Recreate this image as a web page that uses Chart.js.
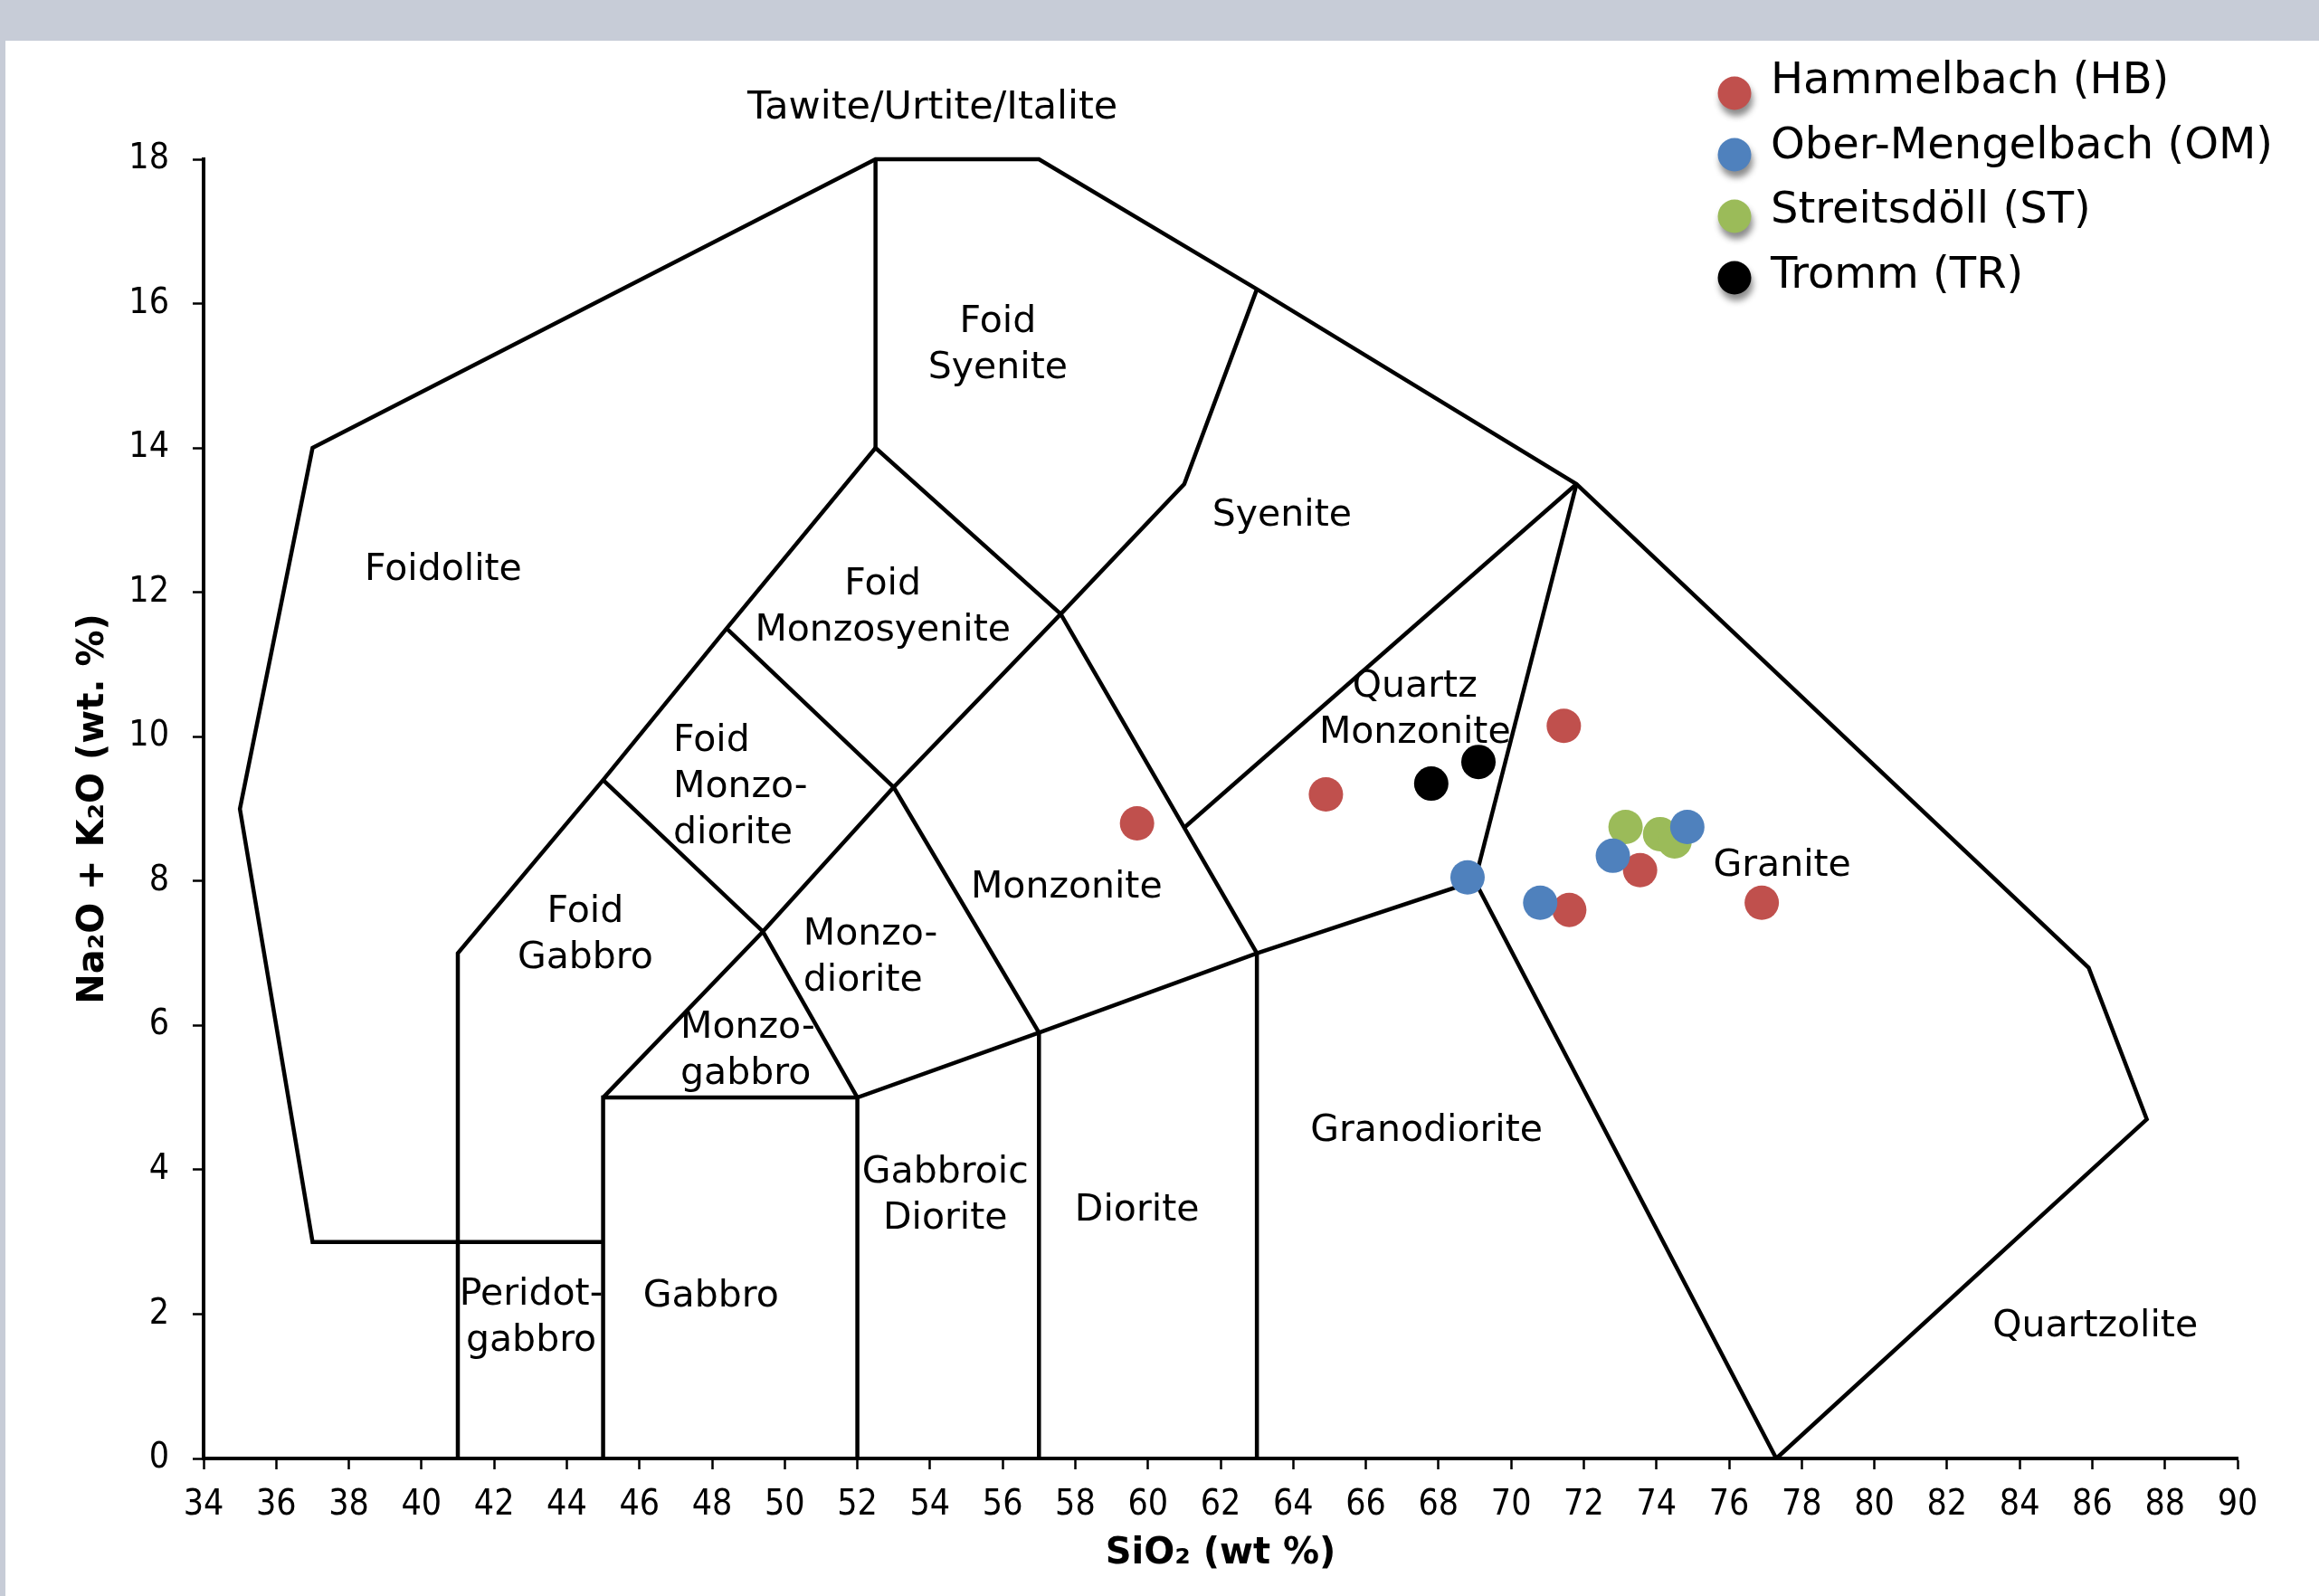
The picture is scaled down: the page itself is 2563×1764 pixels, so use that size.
<!DOCTYPE html>
<html>
<head>
<meta charset="utf-8">
<title>TAS classification – plutonic rocks</title>
<script src="https://cdn.jsdelivr.net/npm/chart.js@4.4.1/dist/chart.umd.min.js"></script>
<style>
  html, body { margin: 0; padding: 0; background: #ffffff; }
  body { width: 2563px; height: 1764px; position: relative; overflow: hidden; }
  #band { position: absolute; left: 0; top: 0; width: 2563px; height: 45px; background: #c7ccd7; }
  #edge { position: absolute; left: 0; top: 0; width: 6px; height: 1764px; background: #c7ccd7; }
  #wrap { position: absolute; left: 0; top: 0; width: 2563px; height: 1764px; }
</style>
</head>
<body>
<div id="band"></div>
<div id="edge"></div>
<div id="wrap"><canvas id="tas" width="2563" height="1764"></canvas></div>
<script>
// ---- sample series (SiO2 wt %, Na2O + K2O wt %) ----
const seriesNames  = ['Hammelbach (HB)', 'Ober-Mengelbach (OM)', 'Streitsdöll (ST)', 'Tromm (TR)'];
const seriesColors = ['#c0504d', '#4f81bd', '#9bbb59', '#000000'];

const hbSiO2 = [59.7, 64.9, 71.45, 71.6, 73.55, 76.9];
const hbAlk  = [8.8, 9.2, 10.15, 7.6, 8.15, 7.7];

const omSiO2 = [68.8, 70.8, 72.8, 74.85];
const omAlk  = [8.05, 7.7, 8.35, 8.75];

const stSiO2 = [73.15, 74.1, 74.5];
const stAlk  = [8.75, 8.65, 8.55];

const trSiO2 = [67.8, 69.1];
const trAlk  = [9.35, 9.65];

// ---- axis ticks ----
const sio2Ticks = [34, 36, 38, 40, 42, 44, 46, 48, 50, 52, 54, 56, 58, 60, 62,
                   64, 66, 68, 70, 72, 74, 76, 78, 80, 82, 84, 86, 88, 90];
const alkTicks  = [0, 2, 4, 6, 8, 10, 12, 14, 16, 18];

// ---- field boundaries of the plutonic TAS diagram (SiO2, Na2O + K2O) ----
const outerBoundary   = [[45, 3], [37, 3], [35, 9], [37, 14], [52.5, 18], [57, 18], [63, 16.2],
                         [71.8, 13.5], [85.9, 6.8], [87.5, 4.7], [77.3, 0]];
const foidLine        = [[41, 0], [41, 7], [45, 9.4], [48.4, 11.5], [52.5, 14], [57.6, 11.7], [63, 7], [63, 0]];
const foidSyeniteLine = [[52.5, 14], [52.5, 18]];
const syeniteLine     = [[57.6, 11.7], [61, 13.5], [63, 16.2]];
const monzosyenLine   = [[48.4, 11.5], [53, 9.3], [57.6, 11.7]];
const monzodioLine    = [[45, 9.4], [49.4, 7.3], [53, 9.3], [57, 5.9], [57, 0]];
const gabbroLine      = [[45, 0], [45, 5], [52, 5], [52, 0]];
const lowerLine       = [[45, 5], [49.4, 7.3], [52, 5], [57, 5.9], [63, 7], [69, 8], [77.3, 0]];
const graniteLine     = [[69, 8], [71.8, 13.5]];
const qtzMonzLine     = [[61, 8.74], [71.8, 13.5]];

const fieldBoundaries = [outerBoundary, foidLine, foidSyeniteLine, syeniteLine, monzosyenLine,
                         monzodioLine, gabbroLine, lowerLine, graniteLine, qtzMonzLine];

// ---- field names, anchored at (SiO2, Na2O + K2O) ----
const fieldNames = [
  { text: ['Tawite/Urtite/Italite'], x: 54.07, y: 18.76, align: 'center', size: 43 },
  { text: ['Foid', 'Syenite'], x: 55.87, y: 15.47, align: 'center' },
  { text: ['Foidolite'], x: 40.6, y: 12.36, align: 'center' },
  { text: ['Syenite'], x: 63.69, y: 13.11, align: 'center' },
  { text: ['Foid', 'Monzosyenite'], x: 52.7, y: 11.84, align: 'center' },
  { text: ['Quartz', 'Monzonite'], x: 67.35, y: 10.42, align: 'center' },
  { text: ['Foid', 'Monzo-', 'diorite'], x: 46.93, y: 9.35, align: 'left' },
  { text: ['Foid', 'Gabbro'], x: 44.51, y: 7.3, align: 'center' },
  { text: ['Monzo-', 'diorite'], x: 50.51, y: 6.99, align: 'left' },
  { text: ['Monzonite'], x: 57.76, y: 7.96, align: 'center' },
  { text: ['Granite'], x: 77.46, y: 8.26, align: 'center' },
  { text: ['Monzo-', 'gabbro'], x: 47.13, y: 5.69, align: 'left' },
  { text: ['Granodiorite'], x: 67.67, y: 4.58, align: 'center' },
  { text: ['Gabbroic', 'Diorite'], x: 54.42, y: 3.69, align: 'center' },
  { text: ['Diorite'], x: 59.7, y: 3.48, align: 'center' },
  { text: ['Peridot-', 'gabbro'], x: 43.02, y: 1.99, align: 'center' },
  { text: ['Gabbro'], x: 47.97, y: 2.29, align: 'center' },
  { text: ['Quartzolite'], x: 86.08, y: 1.87, align: 'center' }
];

const toPoints = (xs, ys) => xs.map((x, i) => ({ x: x, y: ys[i] }));
const pairPoints = (pairs) => pairs.map(p => ({ x: p[0], y: p[1] }));

const FONT = 'DejaVu Sans';

const boundaryDatasets = fieldBoundaries.map(line => ({
  data: pairPoints(line),
  showLine: true,
  borderColor: '#000000',
  borderWidth: 4.5,
  pointRadius: 0,
  pointHoverRadius: 0,
  tension: 0,
  fill: false,
  clip: false,
  order: 10
}));

const sampleData = [toPoints(hbSiO2, hbAlk), toPoints(omSiO2, omAlk), toPoints(stSiO2, stAlk), toPoints(trSiO2, trAlk)];
const drawOrder = [1, 0, 2, 3];

const sampleDatasets = sampleData.map((pts, i) => ({
  label: seriesNames[i],
  data: pts,
  showLine: false,
  pointStyle: 'circle',
  pointRadius: 19,
  pointHoverRadius: 19,
  pointBorderWidth: 0,
  pointBackgroundColor: seriesColors[i],
  borderColor: seriesColors[i],
  backgroundColor: seriesColors[i],
  clip: false,
  order: drawOrder[i]
}));

// Field names drawn at data positions
const fieldNamePlugin = {
  id: 'fieldNames',
  afterDatasetsDraw(chart) {
    const { ctx, scales: { x, y } } = chart;
    ctx.save();
    ctx.fillStyle = '#000000';
    ctx.textBaseline = 'middle';
    const lineGap = 51;
    fieldNames.forEach(f => {
      ctx.font = (f.size || 41) + 'px "' + FONT + '"';
      const px = x.getPixelForValue(f.x);
      const py = y.getPixelForValue(f.y) + 4;
      ctx.textAlign = f.align;
      const n = f.text.length;
      f.text.forEach((t, k) => {
        ctx.fillText(t, px, py + (k - (n - 1) / 2) * lineGap);
      });
    });
    ctx.restore();
  }
};

// Legend in the upper right corner, markers with a soft drop shadow
const legendPlugin = {
  id: 'cornerLegend',
  afterDraw(chart) {
    const { ctx } = chart;
    ctx.save();
    sampleDatasets.forEach((ds, i) => {
      const my = 103 + i * 68;
      ctx.save();
      ctx.shadowColor = 'rgba(0,0,0,0.45)';
      ctx.shadowBlur = 7;
      ctx.shadowOffsetX = 2;
      ctx.shadowOffsetY = 7;
      ctx.fillStyle = ds.pointBackgroundColor;
      ctx.beginPath();
      ctx.arc(1917, my, 18.5, 0, Math.PI * 2);
      ctx.fill();
      ctx.restore();
      ctx.fillStyle = '#000000';
      ctx.font = '48px "' + FONT + '"';
      ctx.textAlign = 'left';
      ctx.textBaseline = 'alphabetic';
      ctx.fillText(ds.label, 1957, 103 + i * 71.7);
    });
    ctx.restore();
  }
};

const tickFont = { family: 'DejaVu Sans Condensed', size: 39 };

new Chart(document.getElementById('tas'), {
  type: 'scatter',
  data: { datasets: boundaryDatasets.concat(sampleDatasets) },
  options: {
    responsive: false,
    animation: false,
    events: [],
    layout: { padding: { left: 60, top: 176, right: 90, bottom: 0 } },
    plugins: {
      legend: { display: false },
      tooltip: { enabled: false }
    },
    scales: {
      x: {
        type: 'linear',
        min: sio2Ticks[0],
        max: sio2Ticks[sio2Ticks.length - 1],
        afterBuildTicks: s => { s.ticks = sio2Ticks.map(v => ({ value: v })); },
        afterFit: s => { s.height = 152; },
        ticks: { font: tickFont, color: '#000000', padding: 16, maxRotation: 0, autoSkip: false },
        grid: { display: true, drawOnChartArea: false, drawTicks: true, tickLength: 12, tickWidth: 2.5, tickColor: '#000000' },
        border: { display: true, color: '#000000', width: 4 },
        title: {
          display: true,
          text: 'SiO₂ (wt %)',
          color: '#000000',
          font: { family: FONT, weight: 'bold', size: 40 },
          padding: { top: 0, bottom: 22 }
        }
      },
      y: {
        type: 'linear',
        min: alkTicks[0],
        max: alkTicks[alkTicks.length - 1],
        afterBuildTicks: s => { s.ticks = alkTicks.map(v => ({ value: v })); },
        afterFit: s => { s.width = 165; },
        ticks: { font: tickFont, color: '#000000', padding: 26, autoSkip: false },
        grid: { display: true, drawOnChartArea: false, drawTicks: true, tickLength: 12, tickWidth: 2.5, tickColor: '#000000' },
        border: { display: true, color: '#000000', width: 4 },
        title: {
          display: true,
          text: 'Na₂O + K₂O (wt. %)',
          color: '#000000',
          font: { family: FONT, weight: 'bold', size: 40 },
          padding: { top: 20, bottom: 0 }
        }
      }
    }
  },
  plugins: [fieldNamePlugin, legendPlugin]
});
</script>
</body>
</html>
